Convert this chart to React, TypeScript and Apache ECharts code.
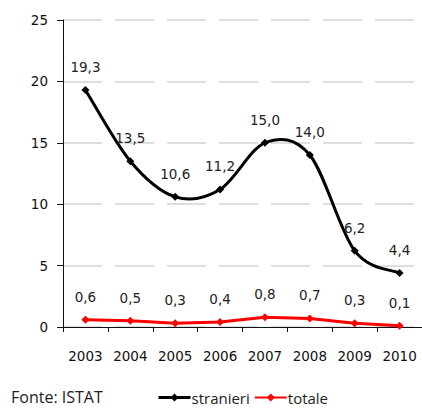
import React, { useEffect, useRef } from "react";
import * as echarts from "echarts";

const years = ["2003", "2004", "2005", "2006", "2007", "2008", "2009", "2010"];
const stranieri = [19.3, 13.5, 10.6, 11.2, 15.0, 14.0, 6.2, 4.4];
const totale = [0.6, 0.5, 0.3, 0.4, 0.8, 0.7, 0.3, 0.1];
const yTicks = [0, 5, 10, 15, 20, 25];

const fmt = (v: number) => v.toFixed(1).replace(".", ",");

// Catmull-Rom style smoothed path through the pixel points of a series
function smoothPath(pts: number[][]): string {
  let d = `M${pts[0][0]},${pts[0][1]}`;
  for (let i = 0; i < pts.length - 1; i++) {
    const p0 = pts[Math.max(i - 1, 0)];
    const p1 = pts[i];
    const p2 = pts[i + 1];
    const p3 = pts[Math.min(i + 2, pts.length - 1)];
    const c1x = p1[0] + (p2[0] - p0[0]) / 6;
    const c1y = p1[1] + (p2[1] - p0[1]) / 6;
    const c2x = p2[0] - (p3[0] - p1[0]) / 6;
    const c2y = p2[1] - (p3[1] - p1[1]) / 6;
    d += ` C${c1x},${c1y} ${c2x},${c2y} ${p2[0]},${p2[1]}`;
  }
  return d;
}

export default function App() {
  const ref = useRef<HTMLDivElement>(null);

  useEffect(() => {
    if (!ref.current) return;
    document.body.style.overflow = "hidden";
    const chart = echarts.init(ref.current, null, { renderer: "svg" });
    const labelStyle = {
      show: true,
      position: "top" as const,
      distance: 12,
      fontFamily: "DejaVu Sans",
      fontSize: 13.5,
      color: "#222",
      formatter: (p: any) => fmt(p.value),
    };
    chart.setOption({
      animation: false,
      backgroundColor: "#fff",
      title: {
        text: "Fonte: ISTAT",
        left: 11,
        top: 389,
        padding: 0,
        textStyle: {
          fontFamily: "Open Sans",
          fontSize: 16,
          lineHeight: 15,
          fontWeight: "normal",
          color: "#222",
        },
      },
      legend: {
        left: 157,
        top: 390,
        padding: 0,
        itemWidth: 32,
        itemHeight: 10,
        itemGap: 4,
        textStyle: {
          fontFamily: "Open Sans",
          fontSize: 15,
          lineHeight: 14,
          color: "#222",
          padding: [0, 0, 0, -4],
        },
        data: [
          { name: "stranieri", lineStyle: { color: "#000", width: 3, opacity: 1 } },
          { name: "totale" },
        ],
      },
      grid: { left: 63, top: 20, width: 361, height: 307, containLabel: false },
      xAxis: {
        type: "category",
        data: years,
        boundaryGap: true,
        axisLine: { lineStyle: { color: "#111", width: 1 } },
        axisTick: { show: true, length: 5, lineStyle: { color: "#111" } },
        axisLabel: {
          margin: 22,
          fontFamily: "DejaVu Sans",
          fontSize: 13.5,
          color: "#111",
        },
        splitLine: { show: false },
      },
      yAxis: {
        type: "value",
        min: yTicks[0],
        max: yTicks[yTicks.length - 1],
        interval: 5,
        axisLine: { show: true, lineStyle: { color: "#111", width: 1 } },
        axisTick: { show: true, length: 6, lineStyle: { color: "#111" } },
        axisLabel: {
          margin: 15,
          fontFamily: "DejaVu Sans",
          fontSize: 13.5,
          color: "#111",
        },
        splitLine: {
          show: true,
          lineStyle: { color: "#d4d4d4", width: 1.5, type: [39, 13] },
        },
      },
      series: [
        {
          // smoothed curve for "stranieri"
          name: "stranieri-curve",
          type: "custom",
          data: stranieri.map((v, i) => [i, v]),
          encode: { x: 0, y: 1 },
          silent: true,
          z: 2,
          renderItem: (params: any, api: any) => {
            if (params.dataIndex !== 0) return null;
            const pts = stranieri.map((v, i) => api.coord([i, v]));
            return {
              type: "path",
              shape: { pathData: smoothPath(pts) },
              style: { fill: "none", stroke: "#000", lineWidth: 3 },
            };
          },
        },
        {
          name: "stranieri",
          type: "line",
          data: stranieri,
          symbol: "diamond",
          symbolSize: 8,
          itemStyle: { color: "#000" },
          lineStyle: { color: "#000", width: 3, opacity: 0 },
          label: labelStyle,
          z: 3,
        },
        {
          name: "totale",
          type: "line",
          data: totale,
          symbol: "diamond",
          symbolSize: 8,
          itemStyle: { color: "#ff0000" },
          lineStyle: { color: "#ff0000", width: 3 },
          label: labelStyle,
          z: 2,
        },
      ],
    });
    return () => chart.dispose();
  }, []);

  return (
    <div
      ref={ref}
      style={{ position: "fixed", left: 0, top: 0, width: 422, height: 408 }}
    />
  );
}
